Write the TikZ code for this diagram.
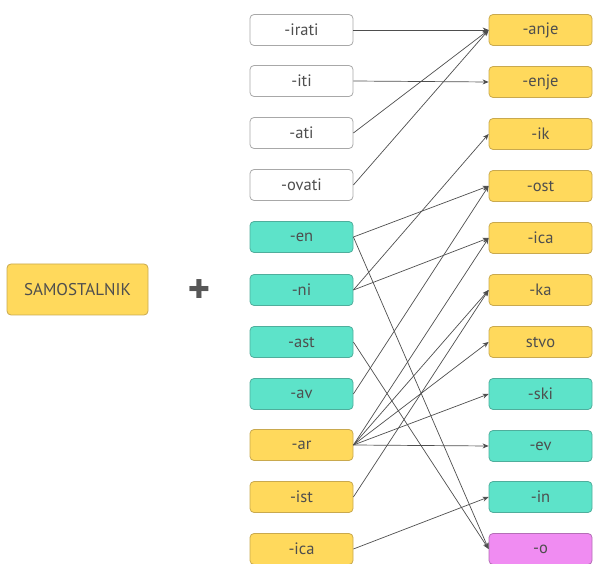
\documentclass[tikz,border=0pt]{standalone}
\usepackage{fontspec}
\setmainfont{PT Sans}
\newfontfamily\symfont{DejaVu Sans}
\usepackage{tikz}
\usetikzlibrary{arrows.meta,positioning}
\definecolor{ink}{HTML}{3A3A3A}
\definecolor{edgegray}{HTML}{A8A8A8}
\definecolor{sunfill}{HTML}{FFD95C}
\definecolor{sunedge}{HTML}{C9A94E}
\definecolor{tealfill}{HTML}{5DE3C9}
\definecolor{tealedge}{HTML}{4FAE9C}
\definecolor{pinkfill}{HTML}{F08CF2}
\definecolor{pinkedge}{HTML}{B46FB6}
\tikzset{
  suffix/.style={draw=edgegray,fill=white,line width=0.8pt,rounded corners=4pt,
                 minimum width=103pt,minimum height=31pt,inner sep=2pt,
                 font=\fontsize{16.5}{18}\selectfont,text=ink!90},
  sunbox/.style={suffix,draw=sunedge,fill=sunfill},
  tealbox/.style={suffix,draw=tealedge,fill=tealfill},
  pinkbox/.style={suffix,draw=pinkedge,fill=pinkfill},
  linkarr/.style={-{Stealth[length=6pt,width=5pt]},line width=0.7pt,color=ink!90}
}
\begin{document}
\begin{tikzpicture}[x=1pt,y=-1pt]
  \useasboundingbox (0,0) rectangle (595,564);
  % base word and plus sign
  \node[sunbox,minimum width=141pt,minimum height=51pt,font=\fontsize{17}{19}\selectfont] (base) at (77.5,289.5) {SAMOSTALNIK};
  \node[font=\symfont\fontsize{26}{26}\selectfont,text=ink!85] (plus) at (199,289) {✚};
  % left column
  \node[suffix]  (irati) at (301.5,30)  {-irati};
  \node[suffix]  (iti)   at (301.5,81)  {-iti};
  \node[suffix]  (ati)   at (301.5,133) {-ati};
  \node[suffix]  (ovati) at (301.5,185) {-ovati};
  \node[tealbox] (en)    at (301.5,237) {-en};
  \node[tealbox] (ni)    at (301.5,290) {-ni};
  \node[tealbox] (ast)   at (301.5,342) {-ast};
  \node[tealbox] (av)    at (301.5,394) {-av};
  \node[sunbox]  (ar)    at (301.5,445) {-ar};
  \node[sunbox]  (ist)   at (301.5,497) {-ist};
  \node[sunbox]  (lica)  at (301.5,549) {-ica};
  % right column
  \node[sunbox]  (anje)  at (540.5,30)  {-anje};
  \node[sunbox]  (enje)  at (540.5,82)  {-enje};
  \node[sunbox]  (ik)    at (540.5,134) {-ik};
  \node[sunbox]  (ost)   at (540.5,186) {-ost};
  \node[sunbox]  (rica)  at (540.5,238) {-ica};
  \node[sunbox]  (ka)    at (540.5,290) {-ka};
  \node[sunbox]  (stvo)  at (540.5,342) {stvo};
  \node[tealbox] (ski)   at (540.5,394) {-ski};
  \node[tealbox] (ev)    at (540.5,446) {-ev};
  \node[tealbox] (in)    at (540.5,497) {-in};
  \node[pinkbox] (o)     at (540.5,549) {-o};
  % links
  \draw[linkarr] (irati.east)--(anje.west);
  \draw[linkarr] (iti.east)--(enje.west);
  \draw[linkarr] (ati.east)--(anje.west);
  \draw[linkarr] (ovati.east)--(anje.west);
  \draw[linkarr] (en.east)--(ost.west);
  \draw[linkarr] (en.east)--(o.west);
  \draw[linkarr] (ni.east)--(ik.west);
  \draw[linkarr] (ni.east)--(rica.west);
  \draw[linkarr] (ast.east)--(o.west);
  \draw[linkarr] (av.east)--(ost.west);
  \draw[linkarr] (ar.east)--(rica.west);
  \draw[linkarr] (ar.east)--(ka.west);
  \draw[linkarr] (ar.east)--(stvo.west);
  \draw[linkarr] (ar.east)--(ski.west);
  \draw[linkarr] (ar.east)--(ev.west);
  \draw[linkarr] (ist.east)--(ka.west);
  \draw[linkarr] (lica.east)--(in.west);
\end{tikzpicture}
\end{document}
